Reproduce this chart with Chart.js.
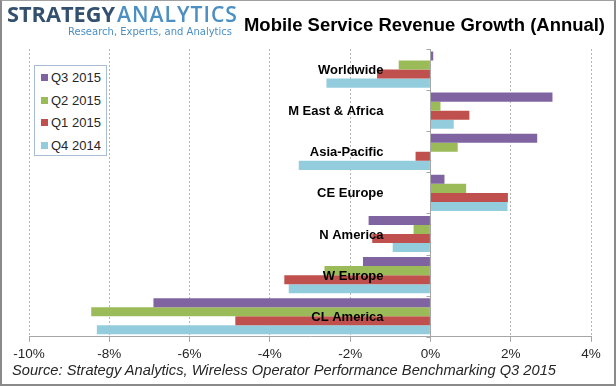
<!DOCTYPE html>
<html><head><meta charset="utf-8">
<script src="https://cdn.jsdelivr.net/npm/chart.js@4.4.1/dist/chart.umd.min.js"></script>
<style>
html,body{margin:0;padding:0;background:#fff;}
#wrap{position:relative;width:616px;height:386px;overflow:hidden;background:#fff;font-family:"Liberation Sans",Arial,sans-serif;}
#chart{position:absolute;left:0;top:0;}
#frame{position:absolute;left:0;top:0;width:616px;height:386px;box-sizing:border-box;border:2px solid #8a8a8a;border-top:1px solid #a0a0a0;pointer-events:none;}
.fit{position:absolute;white-space:nowrap;transform-origin:0 50%;line-height:1;}
#logo1{left:7px;top:4px;font-family:"Open Sans",sans-serif;font-weight:700;font-size:21px;color:#34506f;}
#logo2{left:117px;top:4px;font-family:"Open Sans",sans-serif;font-weight:600;font-size:21px;color:#4b8fc3;letter-spacing:1px;}
#logosub{left:68px;top:27px;font-family:"DejaVu Sans",sans-serif;font-size:10px;color:#4b8fc3;}
#title{left:244px;top:16px;font-weight:bold;font-size:18.5px;color:#000;}
#source{left:12px;top:363px;font-style:italic;font-size:14px;color:#262626;}
#legend{position:absolute;left:34px;top:65px;width:73px;height:91px;box-sizing:border-box;border:1px solid #a9bcd6;background:#fff;}
.li{position:absolute;left:6px;height:16px;font-size:13px;color:#262626;line-height:16px;white-space:nowrap;}
.sw{display:inline-block;width:7px;height:7px;margin-right:3px;vertical-align:1px;}
</style></head>
<body>
<div id="wrap">
<canvas id="chart" width="616" height="386"></canvas>
<span class="fit" id="logo1" data-w="108">STRATEGY</span>
<span class="fit" id="logo2" data-w="121">ANALYTICS</span>
<span class="fit" id="logosub" data-w="164">Research, Experts, and Analytics</span>
<span class="fit" id="title" data-w="361">Mobile Service Revenue Growth (Annual)</span>
<div id="legend"></div>
<span class="fit" id="source" data-w="544">Source: Strategy Analytics, Wireless Operator Performance Benchmarking Q3 2015</span>
<div id="frame"></div>
</div>
<script>
const categories = ["Worldwide", "M East & Africa", "Asia-Pacific", "CE Europe", "N America", "W Europe", "CL America"];
const seriesNames = ["Q3 2015", "Q2 2015", "Q1 2015", "Q4 2014"];
const q3_2015 = [0.07, 3.04, 2.66, 0.35, -1.54, -1.68, -6.90];
const q2_2015 = [-0.79, 0.25, 0.68, 0.89, -0.42, -2.64, -8.45];
const q1_2015 = [-1.33, 0.97, -0.37, 1.93, -1.45, -3.64, -4.86];
const q4_2014 = [-2.59, 0.58, -3.28, 1.92, -0.94, -3.53, -8.31];
const xTickValues = [-10, -8, -6, -4, -2, 0, 2, 4];

const seriesValues = [q3_2015, q2_2015, q1_2015, q4_2014];
const seriesColors = ["#8064A2", "#9BBB59", "#C0504D", "#93CDDD"];

// text fitting
document.querySelectorAll('.fit').forEach(el => {
  const w = el.getBoundingClientRect().width;
  const t = parseFloat(el.dataset.w);
  if (w > 0) el.style.transform = 'scaleX(' + (t / w) + ')';
});

// legend
const legend = document.getElementById('legend');
seriesNames.forEach((n, i) => {
  const d = document.createElement('div');
  d.className = 'li';
  d.style.top = (4 + 22.7 * i) + 'px';
  d.innerHTML = '<span class="sw" style="background:' + seriesColors[i] + '"></span>' + n;
  legend.appendChild(d);
});

const overlay = {
  id: 'overlay',
  afterDatasetsDraw(chart) {
    const {ctx, chartArea: a, scales: {x, y}} = chart;
    const x0 = Math.round(x.getPixelForValue(0)) + 0.5;
    ctx.save();
    ctx.strokeStyle = '#a6a6a6';
    ctx.lineWidth = 1;
    ctx.beginPath();
    ctx.moveTo(x0, a.top);
    ctx.lineTo(x0, a.bottom);
    for (let i = 0; i <= categories.length; i++) {
      const yy = Math.round(a.top + (a.bottom - a.top) * i / categories.length) + 0.5;
      ctx.moveTo(x0 - 4, yy);
      ctx.lineTo(x0, yy);
    }
    ctx.stroke();
    ctx.font = 'bold 13px "Liberation Sans", Arial, sans-serif';
    ctx.fillStyle = '#000';
    ctx.textAlign = 'right';
    ctx.textBaseline = 'middle';
    categories.forEach((c, i) => {
      ctx.fillText(c, x0 - 47, y.getPixelForValue(i) + 1);
    });
    ctx.restore();
  }
};

new Chart(document.getElementById('chart'), {
  type: 'bar',
  data: {
    labels: categories,
    datasets: seriesNames.map((n, i) => ({
      label: n,
      data: seriesValues[i],
      backgroundColor: seriesColors[i],
      borderWidth: 0,
      barPercentage: 1.0,
      categoryPercentage: 0.88
    }))
  },
  options: {
    indexAxis: 'y',
    responsive: false,
    animation: false,
    devicePixelRatio: 1,
    layout: {padding: {left: 29, right: 25, top: 49, bottom: 20}},
    plugins: {legend: {display: false}, title: {display: false}, tooltip: {enabled: false}},
    scales: {
      x: {
        type: 'linear',
        min: -10, max: 4,
        afterBuildTicks: s => { s.ticks = xTickValues.map(v => ({value: v})); },
        ticks: {
          callback: v => v + '%',
          font: {family: '"Liberation Sans", Arial, sans-serif', size: 13.5},
          color: '#262626',
          padding: 4,
          maxRotation: 0
        },
        grid: {
          color: c => (c.tick && c.tick.value === 0) ? 'rgba(0,0,0,0)' : '#b4b4b4',
          tickColor: '#a6a6a6',
          tickLength: 5,
          tickBorderDash: []
        },
        border: {display: true, color: '#a6a6a6', dash: [2, 2]}
      },
      y: {
        type: 'category',
        display: false
      }
    }
  },
  plugins: [overlay]
});
</script>
</body></html>
